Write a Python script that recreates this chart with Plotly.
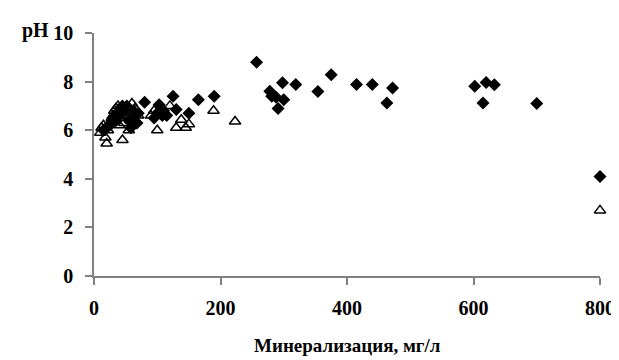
import plotly.graph_objects as go

# Series 1: filled diamonds
diamond_x = [15, 20, 25, 28, 30, 33, 35, 38, 40, 42, 45, 50, 52, 55, 58, 60, 62, 65, 68, 70,
             80, 95, 100, 103, 108, 110, 115, 125, 130, 150, 165, 190,
             257, 278, 281, 288, 291, 298, 300, 319, 354, 375, 415, 440, 463, 472,
             602, 615, 620, 633, 700, 800]
diamond_y = [6.0, 6.1, 6.2, 6.3, 6.5, 6.6, 6.4, 6.7, 6.6, 6.9, 7.0, 6.8, 7.0, 6.4, 6.1, 6.5, 6.8, 6.6, 6.3, 6.7,
             7.15, 6.5, 6.7, 7.05, 6.6, 6.8, 6.6, 7.4, 6.85, 6.7, 7.25, 7.4,
             8.8, 7.6, 7.4, 7.36, 6.89, 7.95, 7.25, 7.88, 7.59, 8.28, 7.88, 7.88, 7.12, 7.74,
             7.81, 7.12, 7.96, 7.87, 7.1, 4.09]

# Series 2: open triangles
tri_x = [10, 12, 15, 18, 20, 22, 25, 28, 30, 32, 35, 38, 40, 45, 48, 50, 55, 58, 60, 65, 70,
         90, 95, 100, 105, 120, 130, 138, 145, 150, 189, 223, 800]
tri_y = [5.9, 6.1, 6.2, 5.7, 5.45, 6.0, 6.3, 6.5, 6.6, 6.8, 6.9, 7.0, 6.2, 5.6, 6.3, 6.6, 6.0, 6.4, 7.1, 6.9, 6.6,
         6.6, 6.8, 6.0, 6.6, 7.0, 6.1, 6.43, 6.1, 6.25, 6.8, 6.36, 2.7]

x_ticks = [0, 200, 400, 600, 800]
y_ticks = [0, 2, 4, 6, 8, 10]

fig = go.Figure()
fig.add_trace(go.Scatter(x=diamond_x, y=diamond_y, mode="markers", cliponaxis=False,
                         marker=dict(symbol="diamond", size=10, color="black"),
                         showlegend=False))
fig.add_trace(go.Scatter(x=tri_x, y=tri_y, mode="markers", cliponaxis=False,
                         marker=dict(symbol="triangle-up-open", size=10, color="black",
                                     line=dict(width=1.5, color="black")),
                         showlegend=False))

font_family = "Liberation Serif, Times New Roman, serif"
axis_common = dict(showgrid=False, zeroline=False, showline=True, linecolor="#808080", linewidth=1.5,
                   ticks="outside", ticklen=7, tickcolor="#808080", tickwidth=1.5,
                   tickfont=dict(family=font_family, size=20, color="black", weight="bold"))

fig.update_xaxes(range=[0, 800], tickvals=x_ticks, ticklabelstandoff=6, **axis_common)
fig.update_yaxes(range=[0, 10], tickvals=y_ticks, ticklabelstandoff=8, **axis_common)

fig.add_annotation(text="pH", xref="paper", yref="paper", x=-0.116, y=1.012,
                   xanchor="center", yanchor="middle", showarrow=False,
                   font=dict(family=font_family, size=20, color="black", weight="bold"))
fig.add_annotation(text="Минерализация, мг/л", xref="paper", yref="paper", x=0.5, y=-0.285,
                   xanchor="center", yanchor="middle", showarrow=False,
                   font=dict(family=font_family, size=19, color="black", weight="bold"))

fig.update_layout(width=619, height=360, margin=dict(l=86, r=18, t=25, b=92),
                  plot_bgcolor="white", paper_bgcolor="white")

fig.write_html("out.html")
